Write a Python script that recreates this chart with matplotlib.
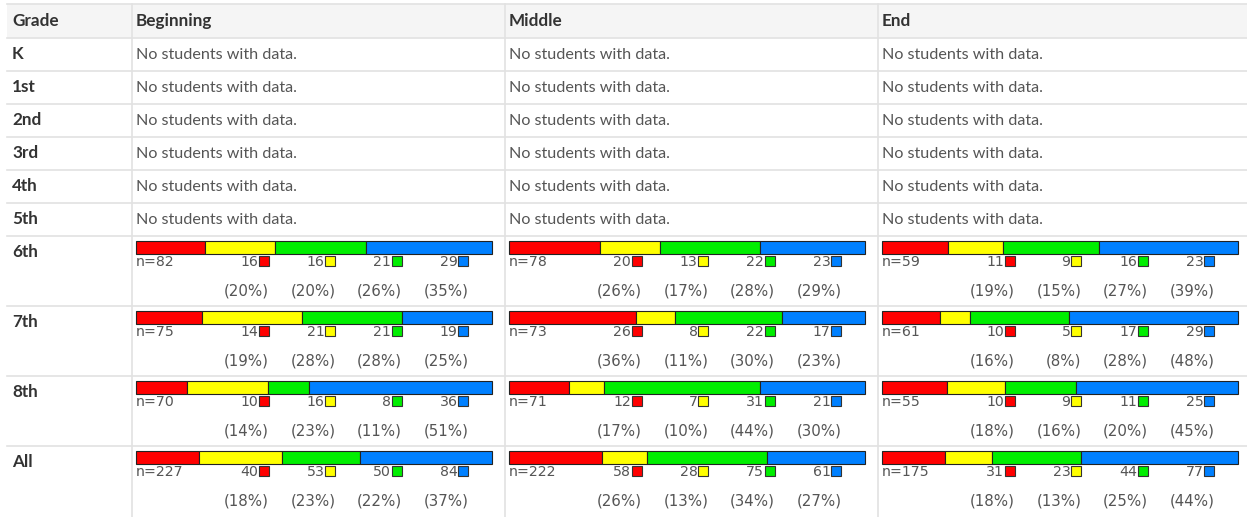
import matplotlib
matplotlib.use("Agg")
import matplotlib.pyplot as plt
from matplotlib.patches import Rectangle

plt.rcParams['font.family'] = ['Lato', 'DejaVu Sans']

columns = ["Beginning", "Middle", "End"]
grades = ["K", "1st", "2nd", "3rd", "4th", "5th", "6th", "7th", "8th", "All"]
empty_grades = ["K", "1st", "2nd", "3rd", "4th", "5th"]

# counts per grade, per period: [red, yellow, green, blue]
counts = {
    "6th": [[16, 16, 21, 29], [20, 13, 22, 23], [11, 9, 16, 23]],
    "7th": [[14, 21, 21, 19], [26, 8, 22, 17], [10, 5, 17, 29]],
    "8th": [[10, 16, 8, 36], [12, 7, 31, 21], [10, 9, 11, 25]],
    "All": [[40, 53, 50, 84], [58, 28, 75, 61], [31, 23, 44, 77]],
}
totals = {
    "6th": [82, 78, 59],
    "7th": [75, 73, 61],
    "8th": [70, 71, 55],
    "All": [227, 222, 175],
}
percents = {
    "6th": [[20, 20, 26, 35], [26, 17, 28, 29], [19, 15, 27, 39]],
    "7th": [[19, 28, 28, 25], [36, 11, 30, 23], [16, 8, 28, 48]],
    "8th": [[14, 23, 11, 51], [17, 10, 44, 30], [18, 16, 20, 45]],
    "All": [[18, 23, 22, 37], [26, 13, 34, 27], [18, 13, 25, 44]],
}
colors = ["#ff0000", "#ffff00", "#00ee00", "#0080ff"]

W, H = 1247, 517
fig = plt.figure(figsize=(W / 100, H / 100), dpi=100)
ax = fig.add_axes([0, 0, 1, 1])
ax.set_xlim(0, W)
ax.set_ylim(H, 0)
ax.axis("off")

table_left = 7
col_x = [132, 505, 878]
header_top, header_bot = 4, 38
row_edges = [38, 71, 104, 137, 170, 203, 236, 306, 376, 446, 517]
line_c = "#e2e2e2"
txt_c = "#555555"
hdr_c = "#333333"
fs_reg = 11.6
fs_bold = 12.3
bar_font = "DejaVu Sans"
fs_cnt = 10.2
fs_pct = 10.8

# header background
ax.add_patch(Rectangle((table_left, header_top), W - table_left, header_bot - header_top,
                       facecolor="#f5f5f5", edgecolor="none", zorder=0))
ax.plot([table_left, W], [header_top, header_top], color=line_c, lw=1.2)
for y in row_edges[:-1]:
    ax.plot([table_left, W], [y, y], color=line_c, lw=1.2)
for x in col_x:
    ax.plot([x, x], [header_top, H], color=line_c, lw=1.2)

# header text
ax.text(12, 21, "Grade", fontsize=fs_bold, fontweight="bold", color=hdr_c, va="center")
for cx, name in zip(col_x, columns):
    ax.text(cx + 4, 21, name, fontsize=fs_bold, fontweight="bold", color=hdr_c, va="center")

bar_w = 356
for i, g in enumerate(grades):
    top = row_edges[i]
    ax.text(12, top + 16, g, fontsize=fs_bold, fontweight="bold", color=hdr_c, va="center")
    if g in empty_grades:
        for cx in col_x:
            ax.text(cx + 4, top + 17, "No students with data.", fontsize=fs_reg,
                    color=txt_c, va="center")
        continue
    for j, cx in enumerate(col_x):
        x0 = cx + 4
        cnts = counts[g][j]
        pcts = percents[g][j]
        n = totals[g][j]
        left = 0
        for k in range(4):
            ax.barh(top + 11.5, cnts[k] / n * bar_w, left=x0 + left / n * bar_w, height=13,
                    color=colors[k], edgecolor="#222222", linewidth=0.8, zorder=3)
            left += cnts[k]
        ax.text(x0, top + 30.5, f"n={n}", fontsize=fs_cnt, color=txt_c, va="baseline",
                family=bar_font)
        for k in range(4):
            sq_x = x0 + 122.5 + 66.6 * k
            ax.add_patch(Rectangle((sq_x, top + 20), 10, 10, facecolor=colors[k],
                                   edgecolor="#333333", lw=0.8, zorder=3))
            ax.text(sq_x - 0.5, top + 30.5, str(cnts[k]), fontsize=fs_cnt, color=txt_c,
                    ha="right", va="baseline", family=bar_font)
            ax.text(sq_x + 10.5, top + 60, f"({pcts[k]}%)", fontsize=fs_pct, color=txt_c,
                    ha="right", va="baseline", family=bar_font)

fig.savefig("out.png", dpi=100)
